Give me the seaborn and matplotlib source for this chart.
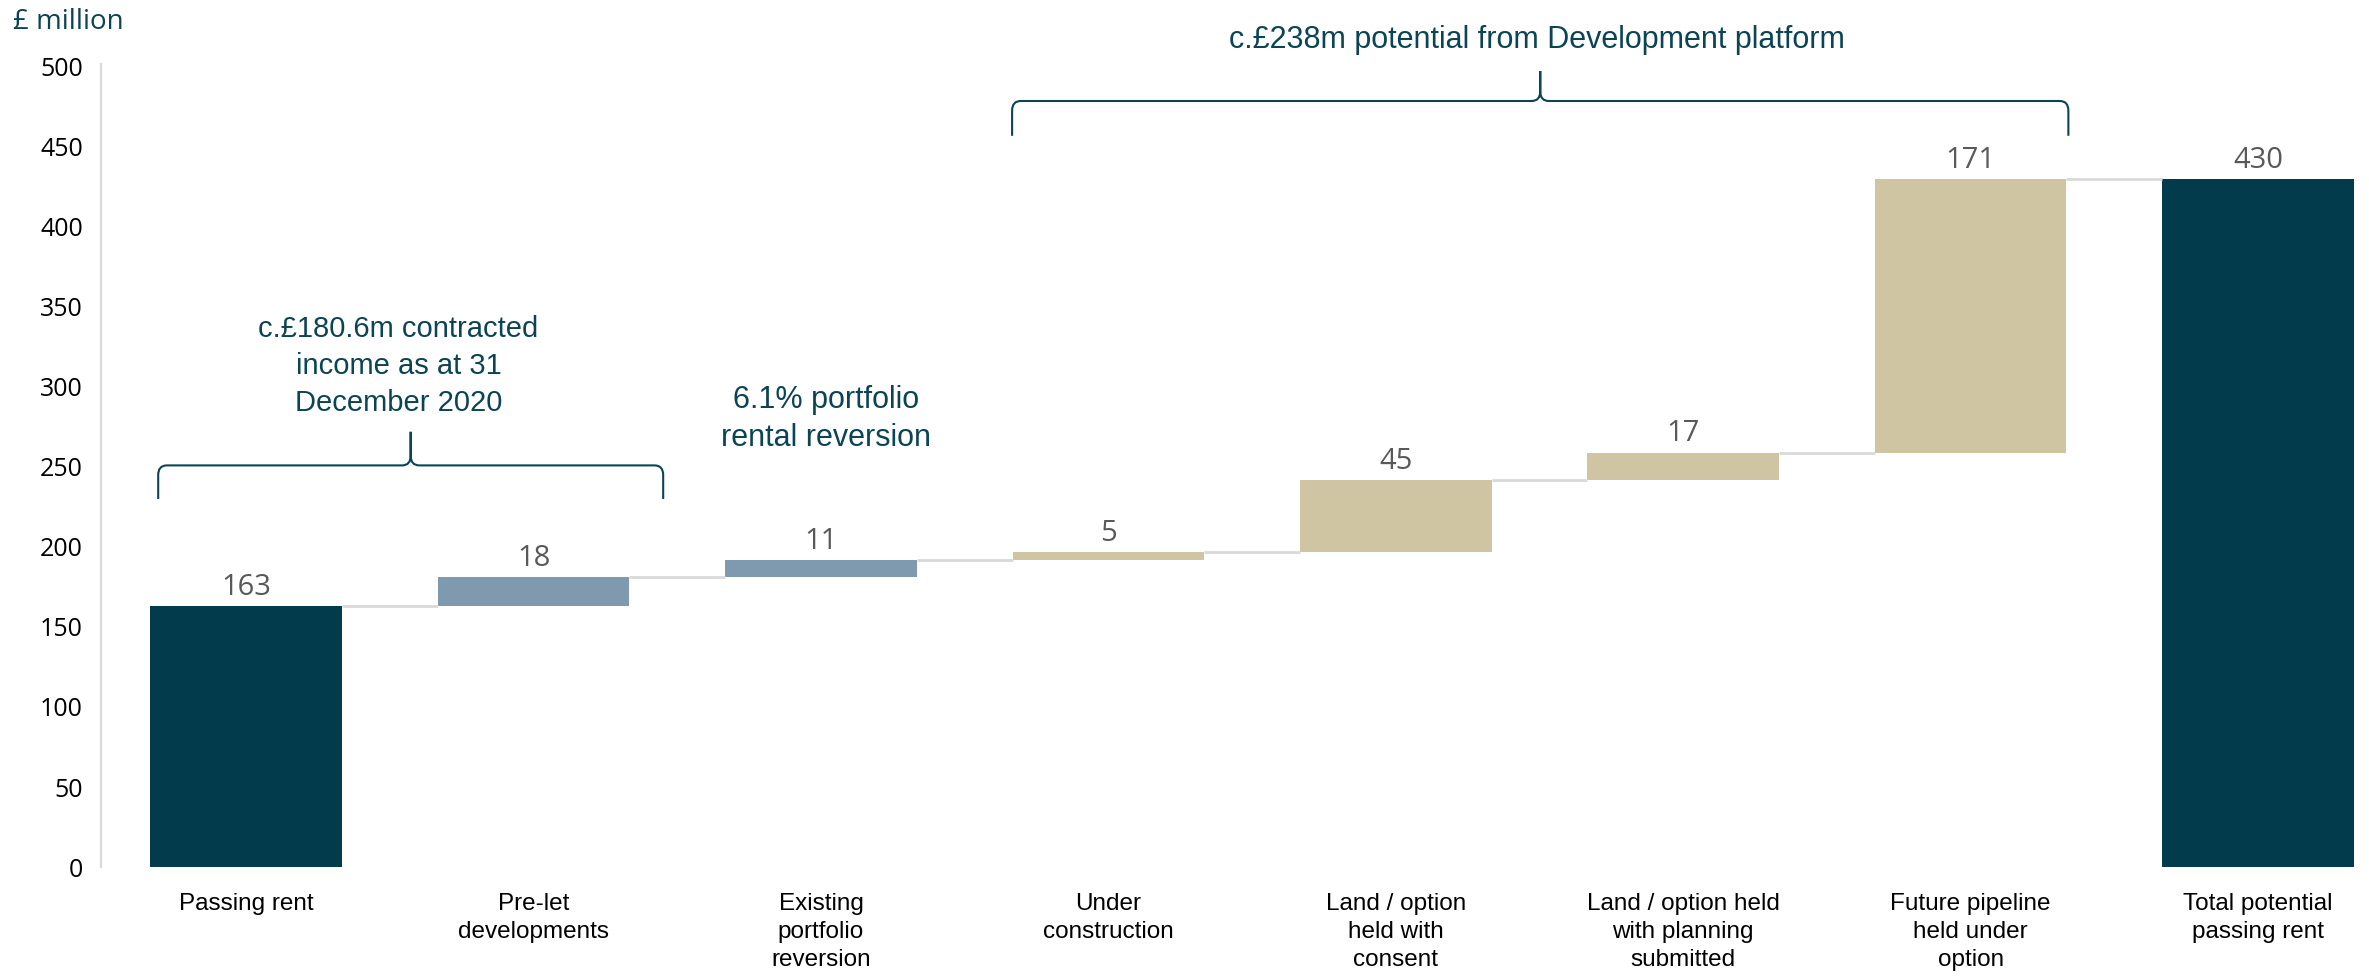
import numpy as np
import pandas as pd
import seaborn as sns
import matplotlib.pyplot as plt
from matplotlib.path import Path
from matplotlib.patches import PathPatch

#### Data ####
categories = ['Passing rent', 'Pre-let\ndevelopments', 'Existing\nportfolio\nreversion',
              'Under\nconstruction', 'Land / option\nheld with\nconsent',
              'Land / option held\nwith planning\nsubmitted', 'Future pipeline\nheld under\noption',
              'Total potential\npassing rent']
changes = [163, 18, 11, 5, 45, 17, 171, 430]
kinds = ['total', 'contracted', 'contracted', 'development', 'development',
         'development', 'development', 'total']
y_ticks = list(range(0, 501, 50))

# Colours
DARK = '#023B4B'
COLOURS = {'total': DARK, 'contracted': '#7F9AAF', 'development': '#CFC5A2'}
TEXT_TEAL = '#0B4454'
CONNECTOR = '#D9D9D9'

# Waterfall bases: totals start at zero, steps start at the running sum
bases = []
running = 0
for value, kind in zip(changes, kinds):
    if kind == 'total':
        bases.append(0)
        running = value
    else:
        bases.append(running)
        running += value
tops = [b + c for b, c in zip(bases, changes)]

df = pd.DataFrame({'category': categories, 'base': bases, 'change': changes,
                   'top': tops, 'kind': kinds})

sns.set_theme(style='white')
plt.rcParams['font.family'] = ['Liberation Sans', 'DejaVu Sans']

fig = plt.figure(figsize=(23.69, 9.8), dpi=100)
ax = fig.add_axes([101 / 2369, 113 / 980, 1 - 101 / 2369, 800 / 980])

BAR_W = 0.667
sns.barplot(data=df, x='category', y='top', order=categories, color=DARK, width=BAR_W,
            saturation=1, errorbar=None, ax=ax)

# Shift each bar so it floats on its base
for patch, base, change, kind in zip(ax.patches, df['base'], df['change'], df['kind']):
    patch.set_y(base)
    patch.set_height(change)
    patch.set_facecolor(COLOURS[kind])
    patch.set_edgecolor('none')

# Connector lines between consecutive bars
for i in range(len(tops) - 1):
    ax.plot([i + BAR_W / 2, i + 1 - BAR_W / 2], [tops[i], tops[i]], color=CONNECTOR,
            lw=2.0, solid_capstyle='butt', zorder=1)

# Value labels
for i, (top, change) in enumerate(zip(tops, changes)):
    ax.annotate(f'{change}', (i, top), xytext=(0, 3), textcoords='offset points',
                ha='center', va='bottom', fontsize=21, color='#595959',
                family=['Open Sans', 'DejaVu Sans'])

ax.set_xlim(-0.505, 7.386)
ax.set_ylim(0, 500)
ax.set_yticks(y_ticks)
ax.set_xlabel('')
ax.set_ylabel('')

ax.tick_params(axis='x', length=0, pad=19, labelsize=17.5, labelcolor='black')
ax.tick_params(axis='y', length=0, pad=13, labelsize=18, labelcolor='black')
for label in ax.get_xticklabels():
    label.set_linespacing(1.33)
for label in ax.get_yticklabels():
    label.set_fontfamily(['Open Sans', 'DejaVu Sans'])

for side in ['top', 'right', 'bottom']:
    ax.spines[side].set_visible(False)
ax.spines['left'].set_color(CONNECTOR)
ax.spines['left'].set_linewidth(1.6)
ax.spines['left'].set_bounds(0, 502)


def draw_brace(ax, x0, x1, y_end, y_line, y_tip, rx=0.03, ry=6):
    """Curly brace opening downwards, with its cusp pointing up."""
    xm = (x0 + x1) / 2
    verts = [(x0, y_end), (x0, y_line - ry), (x0, y_line), (x0 + rx, y_line),
             (xm - rx, y_line), (xm, y_line), (xm, y_line + ry), (xm, y_tip),
             (xm, y_tip), (xm, y_line + ry), (xm, y_line), (xm + rx, y_line),
             (x1 - rx, y_line), (x1, y_line), (x1, y_line - ry), (x1, y_end)]
    codes = [Path.MOVETO, Path.LINETO, Path.CURVE3, Path.CURVE3,
             Path.LINETO, Path.CURVE3, Path.CURVE3, Path.LINETO,
             Path.MOVETO, Path.LINETO, Path.CURVE3, Path.CURVE3,
             Path.LINETO, Path.CURVE3, Path.CURVE3, Path.LINETO]
    ax.add_patch(PathPatch(Path(verts, codes), fill=False, edgecolor=TEXT_TEAL, lw=1.5,
                           clip_on=False))


draw_brace(ax, -0.306, 1.451, 230, 251, 272)
draw_brace(ax, 2.665, 6.34, 457, 478.75, 497.5)

ax.text(0.53, 313, 'c.£180.6m contracted\nincome as at 31\nDecember 2020', ha='center',
        va='center', fontsize=21, color=TEXT_TEAL, linespacing=1.42)
ax.text(2.018, 280, '6.1% portfolio\nrental reversion', ha='center', va='center',
        fontsize=22, color=TEXT_TEAL, linespacing=1.38)
ax.text(4.49, 517, 'c.£238m potential from Development platform', ha='center',
        va='center', fontsize=22, color=TEXT_TEAL, clip_on=False)

fig.text(13 / 2369, 1 - 22 / 980, '£ million', ha='left', va='center', fontsize=20,
         color=TEXT_TEAL, family=['Open Sans', 'DejaVu Sans'])

fig.savefig('out.png', dpi=100)
